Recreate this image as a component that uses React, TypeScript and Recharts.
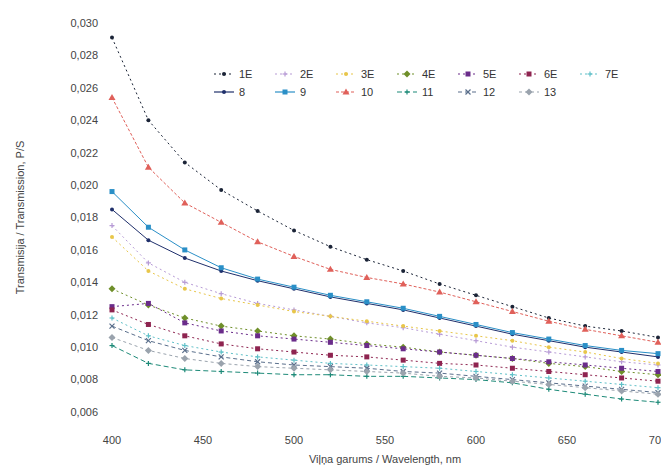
import { LineChart, Line, XAxis, YAxis } from "recharts";

const wavelengths = [400, 420, 440, 460, 480, 500, 520, 540, 560, 580, 600, 620, 640, 660, 680, 700];

const s1E = [0.0291, 0.024, 0.0214, 0.0197, 0.0184, 0.0172, 0.0162, 0.0154, 0.0147, 0.0139, 0.0132, 0.0125, 0.0118, 0.0113, 0.011, 0.0106];
const s2E = [0.0175, 0.0152, 0.014, 0.0133, 0.0127, 0.0123, 0.0119, 0.0115, 0.0112, 0.0108, 0.0104, 0.01, 0.0097, 0.0094, 0.0091, 0.0089];
const s3E = [0.0168, 0.0147, 0.0136, 0.013, 0.0126, 0.0122, 0.0119, 0.0116, 0.0113, 0.011, 0.0107, 0.0104, 0.01, 0.0097, 0.0093, 0.009];
const s4E = [0.0136, 0.0126, 0.0118, 0.0113, 0.011, 0.0107, 0.0105, 0.0102, 0.01, 0.0097, 0.0095, 0.0093, 0.009, 0.0088, 0.0085, 0.0083];
const s5E = [0.0125, 0.0127, 0.0115, 0.011, 0.0107, 0.0105, 0.0103, 0.0101, 0.0099, 0.0097, 0.0095, 0.0093, 0.0091, 0.0089, 0.0087, 0.0085];
const s6E = [0.0123, 0.0114, 0.0107, 0.0102, 0.0099, 0.0097, 0.0095, 0.0094, 0.0092, 0.009, 0.0089, 0.0087, 0.0085, 0.0083, 0.0081, 0.0079];
const s7E = [0.0118, 0.0107, 0.0101, 0.0097, 0.0094, 0.0092, 0.009, 0.0089, 0.0088, 0.0087, 0.0085, 0.0083, 0.0081, 0.0079, 0.0077, 0.0075];
const s8 = [0.0185, 0.0166, 0.0155, 0.0147, 0.0141, 0.0136, 0.0131, 0.0127, 0.0123, 0.0118, 0.0113, 0.0108, 0.0104, 0.01, 0.0097, 0.0094];
const s9 = [0.0196, 0.0174, 0.016, 0.0149, 0.0142, 0.0137, 0.0132, 0.0128, 0.0124, 0.0119, 0.0114, 0.0109, 0.0105, 0.0101, 0.0098, 0.0096];
const s10 = [0.0254, 0.0211, 0.0189, 0.0177, 0.0165, 0.0156, 0.0148, 0.0143, 0.0139, 0.0134, 0.0128, 0.0122, 0.0116, 0.0111, 0.0107, 0.0103];
const s11 = [0.0101, 0.009, 0.0086, 0.0085, 0.0084, 0.0083, 0.0083, 0.0082, 0.0082, 0.0081, 0.008, 0.0078, 0.0074, 0.0071, 0.0068, 0.0066];
const s12 = [0.0113, 0.0104, 0.0098, 0.0094, 0.0091, 0.0089, 0.0088, 0.0087, 0.0085, 0.0084, 0.0082, 0.008, 0.0078, 0.0076, 0.0074, 0.0072];
const s13 = [0.0106, 0.0098, 0.0093, 0.009, 0.0088, 0.0087, 0.0086, 0.0085, 0.0084, 0.0082, 0.0081, 0.0079, 0.0077, 0.0075, 0.0073, 0.0071];

const xTicks = [400, 450, 500, 550, 600, 650, 700];
const yTicks = [0.006, 0.008, 0.01, 0.012, 0.014, 0.016, 0.018, 0.02, 0.022, 0.024, 0.026, 0.028, 0.03];

const series = [
  { key: "1E", values: s1E, color: "#1b2437", dash: "2 3", marker: "circle" },
  { key: "2E", values: s2E, color: "#b79bd6", dash: "2 3", marker: "plus" },
  { key: "3E", values: s3E, color: "#e8c64a", dash: "2 3", marker: "circle" },
  { key: "4E", values: s4E, color: "#6f8f2a", dash: "2 3", marker: "diamond" },
  { key: "5E", values: s5E, color: "#6a2c8a", dash: "2 3", marker: "square" },
  { key: "6E", values: s6E, color: "#8e2450", dash: "2 3", marker: "square" },
  { key: "7E", values: s7E, color: "#5fc0c8", dash: "2 3", marker: "plus" },
  { key: "8", values: s8, color: "#1f2f6b", dash: undefined, marker: "circle" },
  { key: "9", values: s9, color: "#2a8fc7", dash: undefined, marker: "square" },
  { key: "10", values: s10, color: "#e0605a", dash: "3 2", marker: "triangle" },
  { key: "11", values: s11, color: "#1d8a78", dash: "5 3", marker: "plus" },
  { key: "12", values: s12, color: "#5a6f8c", dash: "4 3", marker: "cross" },
  { key: "13", values: s13, color: "#9aa3ad", dash: "3 3", marker: "diamond" },
];

const data = wavelengths.map((w, i) => {
  const row: Record<string, number> = { w };
  series.forEach((s) => {
    row[s.key] = s.values[i];
  });
  return row;
});

const font = "Liberation Sans, Arial, sans-serif";

const Marker = ({ cx, cy, color, type, size = 2.5 }: any) => {
  if (cx == null || cy == null) return null;
  const r = size;
  if (type === "square") return <rect x={cx - r} y={cy - r} width={r * 2} height={r * 2} fill={color} />;
  if (type === "triangle")
    return <polygon points={`${cx},${cy - r - 1} ${cx - r - 1},${cy + r} ${cx + r + 1},${cy + r}`} fill={color} />;
  if (type === "diamond")
    return <polygon points={`${cx},${cy - r - 1} ${cx + r + 1},${cy} ${cx},${cy + r + 1} ${cx - r - 1},${cy}`} fill={color} />;
  if (type === "plus")
    return (
      <g stroke={color} strokeWidth={1.2}>
        <line x1={cx - r} y1={cy} x2={cx + r} y2={cy} />
        <line x1={cx} y1={cy - r} x2={cx} y2={cy + r} />
      </g>
    );
  if (type === "cross")
    return (
      <g stroke={color} strokeWidth={1.2}>
        <line x1={cx - r} y1={cy - r} x2={cx + r} y2={cy + r} />
        <line x1={cx - r} y1={cy + r} x2={cx + r} y2={cy - r} />
      </g>
    );
  return <circle cx={cx} cy={cy} r={r - 0.5} fill={color} />;
};

const fmt = (v: number) => v.toFixed(3).replace(".", ",");

// legend sits inside the plot, two rows of seven columns
const LegendBox = () => (
  <div
    style={{
      position: "absolute",
      top: 60,
      left: 205,
      display: "grid",
      gridTemplateColumns: "repeat(7, 61px)",
      rowGap: 6,
      fontFamily: font,
      fontSize: 11,
      color: "#333",
    }}
  >
    {series.map((s) => (
      <div key={s.key} style={{ display: "flex", alignItems: "center", gap: 4 }}>
        <svg width={22} height={10}>
          <line x1={1} y1={5} x2={21} y2={5} stroke={s.color} strokeWidth={1.2} strokeDasharray={s.dash} />
          <Marker cx={11} cy={5} color={s.color} type={s.marker} />
        </svg>
        <span>{s.key}</span>
      </div>
    ))}
  </div>
);

const App = () => {
  return (
    <div style={{ position: "relative", width: 669, height: 468, background: "#fff" }}>
      <LineChart width={669} height={468} data={data} margin={{ top: 15, right: 19, bottom: 0, left: 0 }}>
        <XAxis
          dataKey="w"
          type="number"
          domain={[400, 700]}
          ticks={xTicks}
          axisLine={false}
          tickLine={false}
          tickMargin={18}
          height={64}
          tick={{ fontSize: 11, fill: "#444", fontFamily: font }}
          label={{
            value: "Viļņa garums / Wavelength, nm",
            position: "insideBottom",
            offset: 13,
            style: { fontSize: 11, fill: "#444", fontFamily: font },
          }}
        />
        <YAxis
          domain={[0.006, 0.03]}
          ticks={yTicks}
          tickFormatter={fmt}
          axisLine={false}
          tickLine={false}
          width={104}
          tickMargin={8}
          tick={{ fontSize: 11, fill: "#444", fontFamily: font }}
          label={{
            value: "Transmisija / Transmission, P/S",
            angle: -90,
            position: "insideLeft",
            offset: 12,
            style: { textAnchor: "middle", fontSize: 11, fill: "#444", fontFamily: font },
          }}
        />
        {series.map((s) => (
          <Line
            key={s.key}
            dataKey={s.key}
            stroke={s.color}
            strokeWidth={1}
            strokeDasharray={s.dash}
            isAnimationActive={false}
            dot={(p: any) => <Marker key={`${s.key}-${p.index}`} cx={p.cx} cy={p.cy} color={s.color} type={s.marker} />}
            activeDot={false}
          />
        ))}
      </LineChart>
      <LegendBox />
    </div>
  );
};

export default App;
